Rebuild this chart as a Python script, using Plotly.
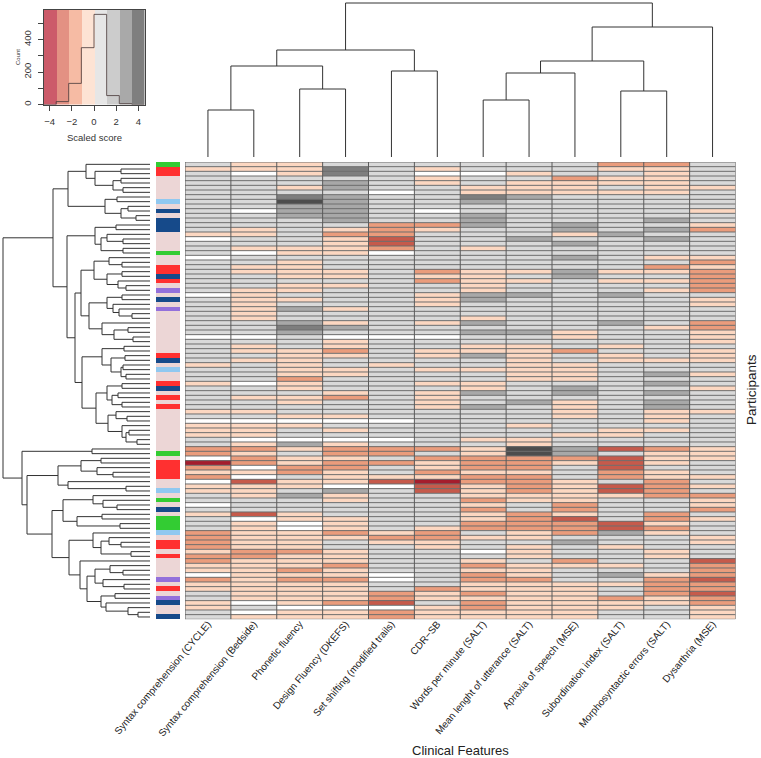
import plotly.graph_objects as go

W, H = 761, 758
NA = 0  # missing score, drawn white

features = ["Syntax comprehension (CYCLE)", "Syntax comprehension (Bedside)", "Phonetic fluency",
            "Design Fluency (DKEFS)", "Set shifting (modified trails)", "CDR−SB",
            "Words per minute (SALT)", "Mean lenght of utterance (SALT)", "Apraxia of speech (MSE)",
            "Subordination index (SALT)", "Morphosyntactic errors (SALT)", "Dysarthria (MSE)"]

c1 = [1,-1,1,1,1,1,1,1,1,1, 1,1,1,1,1,-1,0,1,1,1, 0,1,1,1,1,1,1,1,0,1, 1,1,1,1,1,1,1,0,1,1,
      1,1,1,-1,1,1,1,-1,1,1, 1,1,1,-1,1,0,-1,-1,-1,1, 1,-2,-2,0,-4,-2,-1,-2,0,-1,
      -1,1,1,0,1,-1,1,1,1,-2, -2,-2,-2,-1,-2,-2,-1,-1,0,-2, -1,-1,1,1,-1,-1,1,1]
c2 = [-1,-1,0,1,1,1,1,1,1,1, 0,1,1,1,-1,-1,1,1,-1,0, 1,1,-1,-1,1,1,1,-1,-1,-1, -1,-1,-1,-1,1,1,1,0,1,-1,
      -1,1,-1,1,1,1,1,0,1,1, -1,1,1,-1,1,0,-1,-1,-1,0, -1,-2,-1,-2,-2,0,-1,0,-3,-1,
      -1,-1,1,1,1,-3,0,-1,-1,-1, -1,-1,-1,-2,-2,-1,-1,-1,-1,-1, -1,-1,-1,-1,0,1,0,-1]
c3 = [-1,-1,-1,1,1,-1,1,3,4,2, 2,2,1,1,1,1,1,1,-1,-1, 1,-1,-1,-1,-1,1,-1,-1,1,-1, 1,2,1,1,2,3,2,1,1,1,
      -1,-1,-1,-1,-1,-1,-2,-1,-1,1, -1,-1,1,1,-1,0,-1,1,1,0, 2,-1,1,-1,-1,-2,-2,1,-1,-1,
      1,2,1,1,1,-1,-1,0,0,-1, -1,-1,-1,-2,-1,-1,-1,-2,-1,-2, -1,-1,-1,-1,-1,0,-1,-1]
c4 = [1,3,3,1,2,2,1,2,2,2, 2,2,2,1,-1,-2,-1,-1,-1,-1, 1,1,1,-1,-1,1,-1,1,1,1, 1,-1,1,1,-1,2,1,0,-1,-1,
      -2,-1,1,1,-1,-1,1,1,1,-1, -2,1,1,1,-1,0,1,-1,1,0, -1,-2,-2,-1,-2,-2,-1,-1,-1,0,
      2,-1,-1,1,1,1,-1,-1,-1,-2, -1,1,1,-1,-1,-1,-2,-1,-1,-2, -1,-1,-1,-1,-2,0,-1,-1]
c5 = [1,1,1,1,1,1,0,1,1,1, 1,1,1,-2,-2,-2,-3,-3,-2,0, 1,1,1,1,1,1,1,1,1,1, 1,1,1,1,1,1,1,0,1,1,
      1,1,1,-1,1,1,1,1,1,1, 1,1,1,1,1,0,1,1,1,0, 1,-2,-2,1,-2,1,1,-1,-3,0,
      1,1,1,1,1,1,1,1,1,-1, -2,-1,1,1,1,1,1,1,0,0, 1,1,-2,-2,-3,0,-2,-2]
c6 = [1,-1,0,-1,-1,1,1,1,1,1, 0,1,1,-2,-1,1,1,1,1,1, 1,1,1,-2,-1,-2,1,1,-1,-1, -1,1,1,1,-1,1,1,0,1,1,
      -1,-1,1,1,-1,1,1,-1,1,-1, -1,-1,-1,1,1,1,1,1,1,1, 1,-2,1,-2,-1,-1,-2,-1,-4,-3,
      -3,1,1,1,1,1,1,1,-1,-2, -2,-1,-1,1,1,1,1,1,1,1, 1,-2,-1,-1,1,-1,-1,-1]
c7 = [1,1,0,1,1,-1,-1,3,2,1, 1,2,2,2,1,1,1,1,-1,1, 1,1,1,-1,-1,-1,-1,-1,2,2, 1,1,1,-1,2,1,2,1,1,-1,
      -1,2,1,1,-1,1,1,-1,-1,2, 1,1,2,1,1,1,1,1,1,-1, 1,-1,-1,-2,-2,-2,-1,-2,-2,-1,
      -1,-1,-2,-1,-2,-1,-1,-2,-2,1, -1,1,1,0,1,-1,-2,-1,-2,-2, -1,-1,-2,-1,-2,-2,-1,-1]
c8 = [1,1,-1,1,-1,-1,-1,2,1,1, 1,1,1,1,1,1,2,1,1,1, 1,1,1,-1,1,-1,1,1,2,1, 1,1,1,1,1,1,2,1,1,-1,
      -1,-1,-1,-1,-1,-1,-1,1,1,1, 1,2,1,1,1,1,-1,1,1,-1, -1,4,4,-2,-2,-2,-1,-2,-2,-2,
      -2,-1,-1,1,1,-2,-2,-2,-2,-1, -1,1,-1,-1,-1,1,-1,-1,-1,-2, -1,-1,-1,-1,-1,-1,-1,-1]
c9 = [1,1,1,-2,-1,-1,-1,1,1,1, 1,1,1,2,2,-1,1,2,1,1, 2,1,1,2,2,1,1,1,1,1, 1,1,1,1,1,1,-1,-1,1,1,
      -2,1,1,-1,-1,-1,-1,1,2,2, 1,-1,-1,-1,-1,1,1,1,-1,1, 1,2,2,-2,-1,1,1,1,-1,-1,
      -1,-1,-1,-2,-2,-1,-3,-2,-2,-2, 1,2,1,1,1,-2,-1,1,1,1, -1,-1,-1,-1,-1,-1,-1,-1]
c10 = [-2,-1,1,-1,-1,1,-1,1,1,1, 1,1,1,1,1,2,1,1,1,1, 1,1,1,-1,1,-1,1,1,2,1, 1,1,1,1,2,1,1,1,1,-1,
       1,-1,-1,1,1,1,1,1,1,1, 1,1,1,1,1,1,1,-1,-1,1, 1,-3,1,-3,-3,-3,-2,-2,1,-3,
       -3,-1,1,1,1,1,1,-3,-3,2, 1,1,-1,1,1,1,-1,1,2,1, -1,1,1,-2,-1,-1,1,1]
c11 = [-2,-1,-1,-1,-1,-1,-1,1,1,1, 1,1,2,1,2,1,2,1,1,1, -1,1,-2,-1,1,-1,1,-1,1,1, 1,1,1,1,1,-1,1,1,1,1,
       1,1,-1,1,1,2,1,2,1,2, 1,2,2,-1,-1,-1,1,-1,1,1, 1,-2,-1,-1,-1,1,-1,-1,-2,-2,
       -2,-2,1,1,1,-2,-2,-1,-2,-1, 1,1,1,-1,-1,1,1,1,-1,-2, -2,-2,-2,-1,-1,1,1,1]
c12 = [1,1,1,1,1,-1,1,1,1,1, -1,1,1,-1,-2,1,1,1,1,1, -1,-2,-1,-2,-2,-2,-2,-2,1,-1, -1,1,1,1,-2,-2,-1,-1,-1,1,
       -1,-1,-1,1,1,-1,1,1,-1,1, 1,1,1,-1,1,1,1,1,1,1, 1,-1,-1,-1,1,1,1,-1,1,-1,
       1,-2,-1,-1,-2,1,-1,1,1,1, -1,-1,1,1,1,-3,-2,-2,-2,-3, -2,-2,-3,-2,-2,-1,-1,-1]
columns = [c1, c2, c3, c4, c5, c6, c7, c8, c9, c10, c11, c12]

groups = list("GRRPPPPPBPNPNNNPPPPGPPRRNRPVPNPV" "PPPPPPPPPRNPBPPRNPRPR" "PPPPPPPPPGP" "RRRRPPBPGPNPGGGBPRRPRPPPPVPRPVNPPN")

col_tree = [154, [107, [91, [47, 0, 1], [68, 2, 3]], [86, 4, 5]],
            [130, [96, [84, [57, 6, 7], 8], [66, 9, 10]], 11]]

row_a = [82, [64, 0, [55, [29, 1, 2], [37, [29, 3, 4], [27, 5, 6]]]],
         [45, [33, 7, 8], [29, [22, 9, 10], [14, 11, 12]]]]
row_b1 = [55, [34, 13, 14], [49, [43, 15, [27, 16, 17]], [27, 18, 19]]]
row_d1 = [56, [41, 20, [28, 21, 22]], [43, [28, 23, 24], [32, 25, [24, 26, 27]]]]
row_d2 = [61, [43, [28, 28, 29], [37, 30, [31, 31, [18, 32, 33]]]],
          [48, 34, [36, [22, 35, 36], [17, 37, 38]]]]
row_e1 = [48, [26, 39, 40], [39, [25, 41, 42], [29, [27, 43, 44], [24, 45, 46]]]]
row_e2 = [54, [43, [28, 47, 48], [38, [32, 49, 50], [28, 51, 52]]],
          [42, [34, 53, [23, 54, 55]], [28, 56, [24, [21, 57, 58], [13, 59, 60]]]]]
row_b = [83, row_b1, [75, [69, row_d1, row_d2], [68, row_e1, row_e2]]]
row_h = [92, [69, [49, 63, 64], [53, 65, [37, 66, 67]]], [82, 68, [24, 69, 70]]]
row_j = [87, [57, 71, [47, 72, [33, 73, 74]]], [73, [48, 75, 76], [30, 77, 78]]]
row_k = [81, [57, 79, [49, [41, 80, [29, 81, 82]], [19, 83, 84]]],
         [70, 85, [63, [55, [40, 86, [27, 87, 88]], [47, 89, [26, 90, 91]]],
                   [49, [35, 92, 93], [44, 94, [22, 95, [12, 96, 97]]]]]]]
row_tree = [147, [97, row_a, row_b], [128, [58, 61, 62], [123, row_h, [98, row_j, row_k]]]]

key_edges = [-4.55, -3.41, -2.28, -1.14, 0.0, 1.14, 2.28, 3.41, 4.55]
key_counts = [0, 18, 130, 350, 555, 55, 5, 0, 0]
key_colors = ["#cc5b6a", "#e39183", "#f6bba4", "#fde3d4", "#e6e6e6", "#cccccc", "#a9a9a9", "#7f7f7f"]
level_colors = ["#a51d2d", "#c65a4b", "#ea9c7c", "#fcd7c1", "#ffffff", "#d9d9d9", "#a8a8a8", "#7e7e7e", "#4d4d4d"]
group_codes = ["G", "R", "P", "B", "N", "V"]
group_colors = ["#33cc33", "#ff3030", "#ecd6d6", "#90c8f0", "#164a8a", "#9370db"]

FONT = "Liberation Sans"
INK = "#333333"


def stepped(colors):
    n = len(colors)
    out = []
    for i, c in enumerate(colors):
        out += [[i / n, c], [(i + 1) / n, c]]
    return out


def tree_segments(node, xs, ys):
    """Returns (position, height); adds the U of each merge to xs (positions) and ys (heights)."""
    if not isinstance(node, list):
        return node, 0
    h, a, b = node
    pa, ha = tree_segments(a, xs, ys)
    pb, hb = tree_segments(b, xs, ys)
    xs += [pa, pa, pb, pb, None]
    ys += [ha, h, h, hb, None]
    return (pa + pb) / 2, h


def dx(px):
    return px / W


def dy(px):
    return 1 - px / H


HX0, HX1, HY0, HY1 = 185, 735.5, 162, 619.3
n_rows = len(c1)
z = [[col[r] for col in columns] for r in range(n_rows)]

fig = go.Figure()
fig.add_trace(go.Heatmap(z=z, x=list(range(12)), y=list(range(n_rows)), zmin=-4.5, zmax=4.5,
                         colorscale=stepped(level_colors), showscale=False,
                         xaxis="x", yaxis="y", hoverinfo="skip"))

hx, hy = [], []
for r in range(n_rows + 1):
    hx += [-0.5, 11.5, None]
    hy += [r - 0.5, r - 0.5, None]
fig.add_trace(go.Scatter(x=hx, y=hy, mode="lines", line=dict(color="#6e6e6e", width=1),
                         xaxis="x", yaxis="y", hoverinfo="skip", cliponaxis=False))
vx, vy = [], []
for k in range(13):
    vx += [k - 0.5, k - 0.5, None]
    vy += [-0.5, n_rows - 0.5, None]
fig.add_trace(go.Scatter(x=vx, y=vy, mode="lines", line=dict(color="#5a5a5a", width=1),
                         xaxis="x", yaxis="y", hoverinfo="skip", cliponaxis=False))

sx, sy = [], []
tree_segments(col_tree, sx, sy)
fig.add_trace(go.Scatter(x=sx, y=sy, mode="lines", line=dict(color=INK, width=1),
                         xaxis="x2", yaxis="y2", hoverinfo="skip"))

sx, sy = [], []
tree_segments(row_tree, sx, sy)
fig.add_trace(go.Scatter(x=sy, y=sx, mode="lines", line=dict(color=INK, width=1),
                         xaxis="x3", yaxis="y3", hoverinfo="skip"))

fig.add_trace(go.Heatmap(z=[[group_codes.index(g)] for g in groups], x=[0], y=list(range(n_rows)),
                         zmin=-0.5, zmax=5.5, colorscale=stepped(group_colors), showscale=False,
                         xaxis="x4", yaxis="y4", hoverinfo="skip"))

mids = [(a + b) / 2 for a, b in zip(key_edges[:-1], key_edges[1:])]
widths = [b - a for a, b in zip(key_edges[:-1], key_edges[1:])]
fig.add_trace(go.Bar(x=mids, y=[585] * 8, width=widths, marker=dict(color=key_colors, line=dict(width=0)),
                     xaxis="x5", yaxis="y5", hoverinfo="skip"))
fig.add_trace(go.Scatter(x=key_edges, y=key_counts, mode="lines", line=dict(color="rgba(80,65,65,0.85)", width=1, shape="hv"),
                         xaxis="x5", yaxis="y5", hoverinfo="skip"))

hide = dict(visible=False, showgrid=False, zeroline=False, fixedrange=True, automargin=False)
fig.update_layout(
    width=W, height=H, autosize=False, showlegend=False,
    margin=dict(l=0, r=0, t=0, b=0), paper_bgcolor="white", plot_bgcolor="white",
    font=dict(family=FONT, color="#222222"),
    bargap=0,
    xaxis=dict(domain=[dx(HX0), dx(HX1)], range=[-0.5, 11.5], showgrid=False, zeroline=False, automargin=False,
               tickmode="array", tickvals=list(range(12)), ticktext=features, tickangle=-50,
               tickfont=dict(size=10, color="#222222"), ticks="", ticklen=0, showline=False, anchor="y",
               ticklabelstandoff=-4),
    yaxis=dict(domain=[dy(HY1), dy(HY0)], range=[n_rows - 0.5, -0.5], showticklabels=False, showgrid=False,
               zeroline=False, ticks="", anchor="x", automargin=False),
    xaxis2=dict(domain=[dx(HX0), dx(HX1)], range=[-0.5, 11.5], **hide),
    yaxis2=dict(domain=[dy(157), dy(0)], range=[0, 157], **hide),
    xaxis3=dict(domain=[dx(0), dx(150)], range=[150, 0], **hide),
    yaxis3=dict(domain=[dy(HY1), dy(HY0)], range=[n_rows - 0.5, -0.5], **hide),
    xaxis4=dict(domain=[dx(156), dx(180)], range=[-0.5, 0.5], **hide),
    yaxis4=dict(domain=[dy(HY1), dy(HY0)], range=[n_rows - 0.5, -0.5], **hide),
    xaxis5=dict(domain=[dx(43.5), dx(144.5)], range=[-4.55, 4.55], showgrid=False, zeroline=False, automargin=False,
                tickmode="array", tickvals=[-4, -2, 0, 2, 4], ticks="outside", ticklen=5, tickcolor="#444444",
                tickfont=dict(size=9.5, color="#333333"), showline=True, linecolor="#444444", linewidth=1, mirror=True,
                anchor="y5", ticklabelstandoff=3),
    yaxis5=dict(domain=[dy(104.5), dy(9.5)], range=[0, 585], showgrid=False, zeroline=False, automargin=False,
                tickmode="array", tickvals=[0, 100, 200, 300, 400, 500], ticktext=["0", "", "200", "", "400", ""],
                tickangle=-90, ticks="outside", ticklen=5, tickcolor="#444444",
                tickfont=dict(size=9.5, color="#333333"), showline=True, linecolor="#444444", linewidth=1, mirror=True,
                anchor="x5", ticklabelstandoff=3),
    annotations=[
        dict(text="Scaled score", xref="paper", yref="paper", x=dx(94), y=dy(137), showarrow=False,
             font=dict(size=9.5, color="#333333"), xanchor="center", yanchor="middle"),
        dict(text="Count", xref="paper", yref="paper", x=dx(18), y=dy(57), showarrow=False, textangle=-90,
             font=dict(size=6, color="#333333"), xanchor="center", yanchor="middle"),
        dict(text="Clinical Features", xref="paper", yref="paper", x=dx(461), y=dy(750), showarrow=False,
             font=dict(size=13, color="#222222"), xanchor="center", yanchor="middle"),
        dict(text="Participants", xref="paper", yref="paper", x=dx(751), y=dy(390), showarrow=False, textangle=-90,
             font=dict(size=13.5, color="#222222"), xanchor="center", yanchor="middle"),
    ],
)
for col in columns:
    assert len(col) == 98
assert len(groups) == 98
fig.write_html("out.html", config=dict(displayModeBar=False),
               post_script="document.body.style.margin='0';document.documentElement.style.overflow='hidden';")
